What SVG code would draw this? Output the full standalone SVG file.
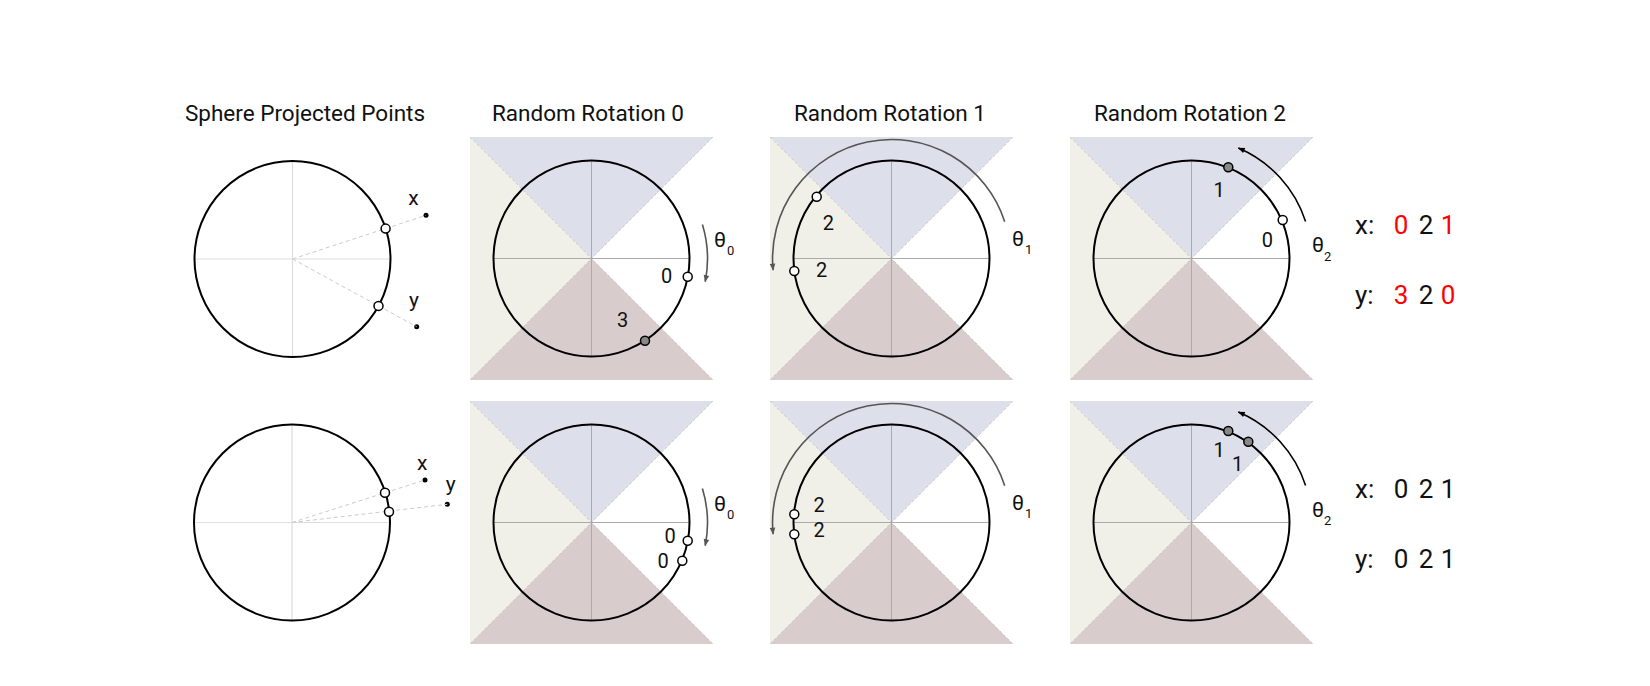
<svg xmlns="http://www.w3.org/2000/svg" xmlns:xlink="http://www.w3.org/1999/xlink" width="1650" height="686" viewBox="0 0 1650 686">
<style>
text{font-family:Roboto,"Liberation Sans",sans-serif;fill:#111}
.title{font-size:22.5px;text-anchor:middle}
.lbl{font-size:20px;text-anchor:middle}
.xy{font-size:21px;text-anchor:middle}
.th{font-size:21px}
.sub{font-size:13px}
.code{font-size:26px}
.mid{text-anchor:middle}
.red{fill:#ff0000}
.circ{fill:none;stroke:#000;stroke-width:2}
.pw{fill:#fff;stroke:#000;stroke-width:1.5}
.pg{fill:#888;stroke:#000;stroke-width:1.5}
.dash{stroke:#ccc;stroke-width:1;stroke-dasharray:4 3;fill:none}
.arcg{fill:none;stroke:#555;stroke-width:1.6}
.arck{fill:none;stroke:#000;stroke-width:1.6}
</style>
<defs>
<marker id="ahg" viewBox="0 0 10 10" refX="9" refY="5" markerWidth="9" markerHeight="7" markerUnits="userSpaceOnUse" orient="auto"><path d="M0,1 L10,5 L0,9 z" fill="#555"/></marker>
<marker id="ahk" viewBox="0 0 10 10" refX="9" refY="5" markerWidth="9" markerHeight="7" markerUnits="userSpaceOnUse" orient="auto"><path d="M0,1 L10,5 L0,9 z" fill="#000"/></marker>
<g id="quad">
<polygon points="-121.5,-121.5 121.5,-121.5 0,0" fill="#dde0ea"/>
<polygon points="-121.5,-121.5 0,0 -121.5,121.5" fill="#f0f0e8"/>
<polygon points="-121.5,121.5 0,0 121.5,121.5" fill="#d9cccc"/>
<path d="M-121.5,-121.5 L121.5,121.5 M121.5,-121.5 L-121.5,121.5" stroke="#c4c4c4" stroke-width="0.8" stroke-dasharray="3 2" fill="none"/>
<path d="M-98,0 H98 M0,-98 V98" stroke="#aaa" stroke-width="1" fill="none"/>
<circle r="98" class="circ"/>
</g>
<g id="sph">
<path d="M-98,0 H98 M0,-98 V98" stroke="#ddd" stroke-width="1.2" fill="none"/>
<circle r="98" class="circ"/>
</g>
</defs>
<rect width="1650" height="686" fill="#fff"/>

<g id="titles">
<text class="title" x="305" y="121">Sphere Projected Points</text>
<text class="title" x="588" y="121">Random Rotation 0</text>
<text class="title" x="890" y="121">Random Rotation 1</text>
<text class="title" x="1190" y="121">Random Rotation 2</text>
</g>

<g id="sphere-top">
<use xlink:href="#sph" transform="translate(292.5,259)"/>
<circle cx="426" cy="215.3" r="2.5" fill="#000"/>
<circle cx="416.7" cy="326.7" r="2.5" fill="#000"/>
<text class="xy" x="413.5" y="205">x</text>
<text class="xy" x="414" y="307">y</text>
</g>

<g id="rot0-top">
<use xlink:href="#quad" transform="translate(591.5,258.5)"/>
<text class="lbl" x="666.5" y="283">0</text>
<text class="lbl" x="622.5" y="327">3</text>
<text class="th" x="714" y="247">θ</text><text class="sub" x="727" y="254.5">0</text>
</g>

<g id="rot1-top">
<use xlink:href="#quad" transform="translate(891.5,258.5)"/>
<text class="lbl" x="828.3" y="230">2</text>
<text class="lbl" x="821.5" y="276.7">2</text>
<text class="th" x="1012" y="246">θ</text><text class="sub" x="1025" y="253.5">1</text>
</g>

<g id="rot2-top">
<use xlink:href="#quad" transform="translate(1191.5,258.5)"/>
<text class="lbl" x="1219" y="196.7">1</text>
<text class="lbl" x="1267.3" y="246.7">0</text>
<text class="th" x="1312" y="252">θ</text><text class="sub" x="1324" y="260.5">2</text>
</g>

<g id="codes-top">
<text class="code" x="1355" y="234">x:</text>
<text class="code red mid" x="1401" y="234">0</text>
<text class="code mid" x="1426" y="234">2</text>
<text class="code red mid" x="1448" y="234">1</text>
<text class="code" x="1355" y="304">y:</text>
<text class="code red mid" x="1401" y="304">3</text>
<text class="code mid" x="1426" y="304">2</text>
<text class="code red mid" x="1448" y="304">0</text>
</g>

<g id="sphere-bottom">
<use xlink:href="#sph" transform="translate(292,522.5)"/>
<circle cx="425" cy="480" r="2.5" fill="#000"/>
<circle cx="447.3" cy="504.3" r="2.5" fill="#000"/>
<text class="xy" x="422.3" y="470">x</text>
<text class="xy" x="450.8" y="491">y</text>
</g>

<g id="rot0-bottom">
<use xlink:href="#quad" transform="translate(591.5,522.5)"/>
<text class="lbl" x="670" y="543.3">0</text>
<text class="lbl" x="663" y="567.7">0</text>
<text class="th" x="714" y="511">θ</text><text class="sub" x="727" y="518.5">0</text>
</g>

<g id="rot1-bottom">
<use xlink:href="#quad" transform="translate(891.5,522.5)"/>
<text class="lbl" x="819" y="511.7">2</text>
<text class="lbl" x="819" y="536.7">2</text>
<text class="th" x="1012" y="510">θ</text><text class="sub" x="1025" y="517.5">1</text>
</g>

<g id="rot2-bottom">
<use xlink:href="#quad" transform="translate(1191.5,522.5)"/>
<text class="lbl" x="1219" y="456.7">1</text>
<text class="lbl" x="1237.5" y="471">1</text>
<text class="th" x="1312" y="516.5">θ</text><text class="sub" x="1324" y="525">2</text>
</g>

<g id="codes-bottom">
<text class="code" x="1355" y="498">x:</text>
<text class="code mid" x="1401" y="498">0</text>
<text class="code mid" x="1426" y="498">2</text>
<text class="code mid" x="1448" y="498">1</text>
<text class="code" x="1355" y="568">y:</text>
<text class="code mid" x="1401" y="568">0</text>
<text class="code mid" x="1426" y="568">2</text>
<text class="code mid" x="1448" y="568">1</text>
</g>

<g id="connectors">
<path class="dash" d="M292.5,259 L426,215.3"/>
<path class="dash" d="M292.5,259 L416.7,326.7"/>
<path class="dash" d="M292,522.5 L425,480"/>
<path class="dash" d="M292,522.5 L447.3,504.3"/>
<path class="arcg" marker-end="url(#ahg)" d="M702.4,224.6 A116,116 0 0 1 705.2,281.6"/>
<path class="arcg" marker-end="url(#ahg)" d="M702.4,488.6 A116,116 0 0 1 705.2,545.6"/>
<path class="arcg" marker-end="url(#ahg)" d="M1004.7,221.7 A119,119 0 0 0 773.1,270.1"/>
<path class="arcg" marker-end="url(#ahg)" d="M1004.7,485.7 A119,119 0 0 0 773.1,534.1"/>
<path class="arck" marker-end="url(#ahk)" d="M1305.6,221.6 A120,120 0 0 0 1238.4,148"/>
<path class="arck" marker-end="url(#ahk)" d="M1305.6,485.6 A120,120 0 0 0 1238.4,412"/>
</g>

<g id="points">
<circle id="p-sx" class="pw" cx="385.6" cy="228.6" r="4.5"/>
<circle id="p-sy" class="pw" cx="378.5" cy="305.9" r="4.5"/>
<circle id="p-r0x" class="pw" cx="687.7" cy="276.7" r="4.5"/>
<circle id="p-r0y" class="pg" cx="645" cy="340.7" r="4.5"/>
<circle id="p-r1x" class="pw" cx="816.7" cy="196.7" r="4.5"/>
<circle id="p-r1y" class="pw" cx="794.3" cy="271" r="4.5"/>
<circle id="p-r2x" class="pg" cx="1228.3" cy="167.3" r="4.5"/>
<circle id="p-r2y" class="pw" cx="1282.7" cy="220" r="4.5"/>
<circle id="q-sx" class="pw" cx="385" cy="492.7" r="4.5"/>
<circle id="q-sy" class="pw" cx="389" cy="511.7" r="4.5"/>
<circle id="q-r0x" class="pw" cx="687.7" cy="540.7" r="4.5"/>
<circle id="q-r0y" class="pw" cx="682.3" cy="560.7" r="4.5"/>
<circle id="q-r1x" class="pw" cx="794.3" cy="514.3" r="4.5"/>
<circle id="q-r1y" class="pw" cx="794.3" cy="534.3" r="4.5"/>
<circle id="q-r2x" class="pg" cx="1228.3" cy="431" r="4.5"/>
<circle id="q-r2y" class="pg" cx="1248.3" cy="441.7" r="4.5"/>
</g>
</svg>
